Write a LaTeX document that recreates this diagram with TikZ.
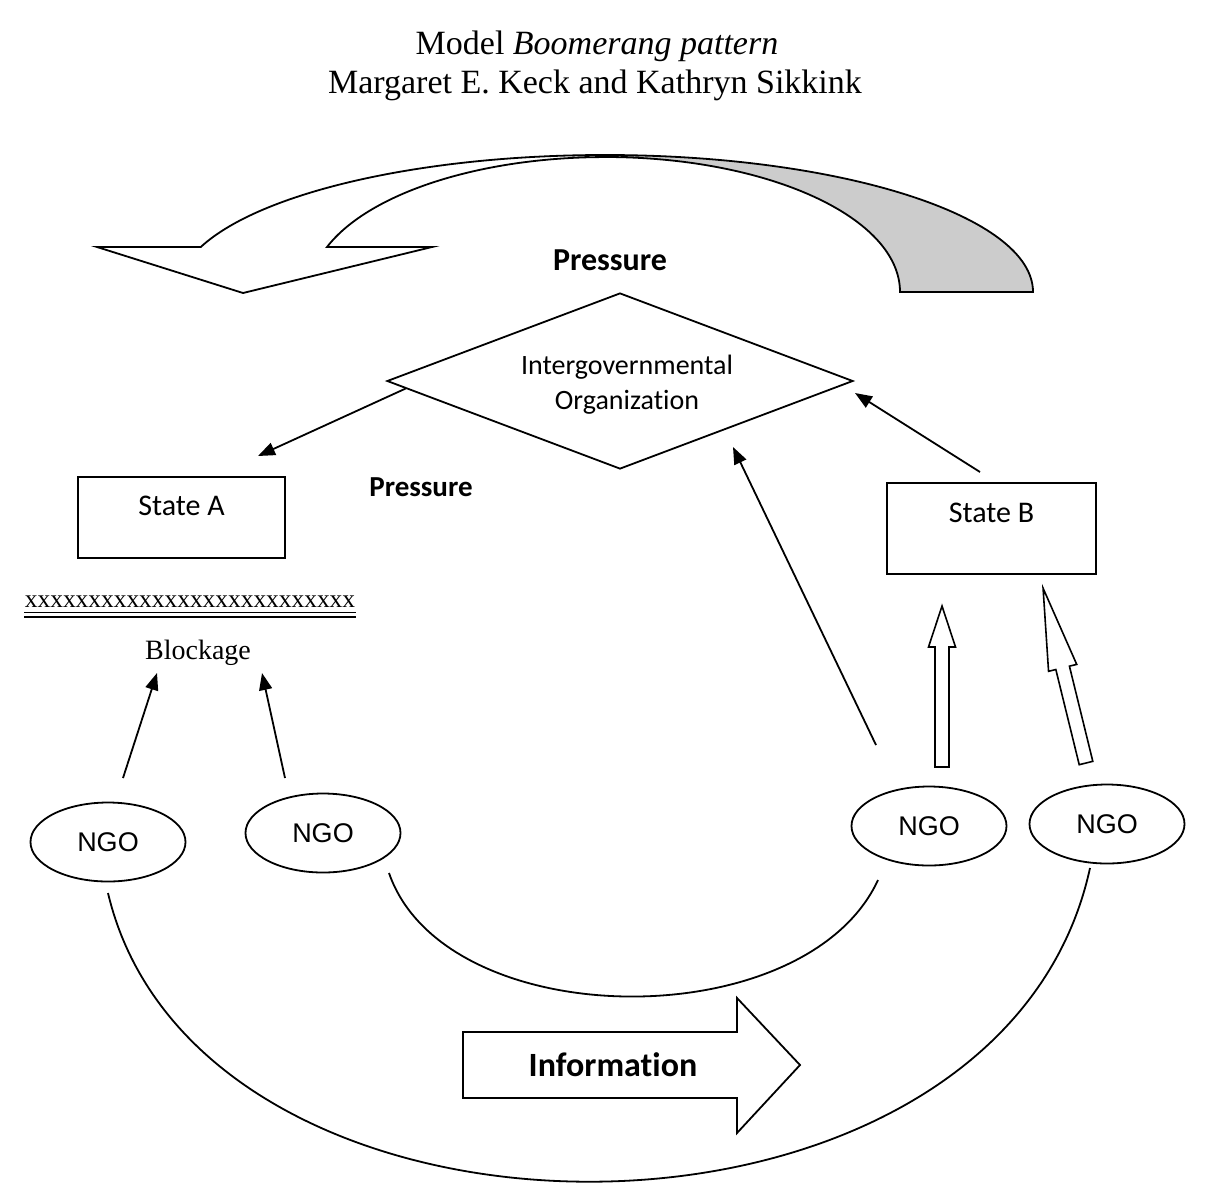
\documentclass[tikz,border=0pt]{standalone}
\usepackage{xcolor}
\usepackage{fontspec}
\setmainfont{Liberation Serif}
\newfontfamily\calibri[Ligatures=NoCommon]{Carlito}
\newfontfamily\arialfont{Liberation Sans}
\usetikzlibrary{shapes.geometric,arrows.meta}

\begin{document}
\begin{tikzpicture}[x=0.5pt,y=-0.5pt,line width=0.9pt,
    ngo/.style={draw, ellipse, minimum width=77.5pt, minimum height=39.5pt, inner sep=0pt, font=\arialfont\fontsize{13.5}{16}\selectfont},
    statebox/.style={draw, rectangle, inner sep=0pt, font=\calibri\fontsize{15}{18}\selectfont},
    boldlbl/.style={font=\calibri\bfseries\fontsize{#1}{18}\selectfont},
    arr/.style={-{Triangle[length=8.5pt,width=6.5pt]}},
    hollow/.style={draw, fill=white, line width=0.8pt}
]
    \fill[white] (0,0) rectangle (1209,1200);
    \useasboundingbox (0,0) rectangle (1209,1200);

    % title
    \node[font=\fontsize{17}{20}\selectfont] (title1) at (597,46) {Model \textit{Boomerang pattern}};
    \node[font=\fontsize{17}{20}\selectfont] (title2) at (595,85) {Margaret E. Keck and Kathryn Sikkink};

    % boomerang arrow
    \draw[fill=black!20] (1033,292) arc[start angle=0, end angle=-90, x radius=428, y radius=137]
        -- (605,157) arc[start angle=-90, end angle=0, x radius=295, y radius=135] -- cycle;
    \draw[fill=white] (605,155) arc[start angle=-90, end angle=-160.8, x radius=428, y radius=137]
        -- (97,247) -- (243,293) -- (432,247) -- (327,247)
        arc[start angle=-160.5, end angle=-90, x radius=295, y radius=135] -- cycle;
    \node[boldlbl=16] (press1) at (610,260) {Pressure};

    % organisation and states
    \node[draw, diamond, shape aspect=2.65, minimum width=233pt, minimum height=88pt, inner sep=0pt] (io) at (620,381) {};
    \node[align=center, font=\calibri\fontsize{14}{17.5}\selectfont] (iolbl) at (627,385) {Intergovernmental\\Organization};
    \node[boldlbl=14.5] (press2) at (421,487) {Pressure};
    \node[statebox, minimum width=103.5pt, minimum height=40.5pt, text depth=12pt] (stateA) at (181.5,517.5) {State A};
    \node[statebox, minimum width=104.5pt, minimum height=45.5pt, text depth=15.5pt] (stateB) at (991.5,528.5) {State B};

    % blockage
    \node[font=\fontsize{12.7}{15}\selectfont, inner sep=0pt] (xline) at (190,602) {xxxxxxxxxxxxxxxxxxxxxxxxxx};
    \draw[line width=0.5pt] ([yshift=-2pt]xline.south west) -- ([yshift=-2pt]xline.south east);
    \draw[line width=1pt] ([yshift=-4pt]xline.south west) -- ([yshift=-4pt]xline.south east);
    \node[font=\fontsize{14}{17}\selectfont] (block) at (198,653) {Blockage};

    % NGOs
    \node[ngo] (ngoA) at (108,842) {NGO};
    \node[ngo] (ngoB) at (323,833) {NGO};
    \node[ngo] (ngoC) at (929,826) {NGO};
    \node[ngo] (ngoD) at (1107,824) {NGO};

    % free ends
    \coordinate (pA) at (258,456);
    \coordinate (pB) at (980,472);
    \coordinate (pIOe) at (855,393);
    \coordinate (pC) at (876,745);
    \coordinate (pIOs) at (733,447);
    \coordinate (bl1s) at (123,778);
    \coordinate (bl1e) at (157,673);
    \coordinate (bl2s) at (285,778);
    \coordinate (bl2e) at (262,673);
    \coordinate (cA) at (108,893);
    \coordinate (cB) at (389,873);
    \coordinate (cC) at (878,880);
    \coordinate (cD) at (1090,868);

    \draw[arr] (io.182) -- (pA);
    \draw[arr] (pB) -- (pIOe);
    \draw[arr] (pC) -- (pIOs);
    \draw[arr] (bl1s) -- (bl1e);
    \draw[arr] (bl2s) -- (bl2e);

    % hollow arrows to State B
    \begin{scope}[shift={(942,767)}, rotate=90]
        \draw[hollow] (0,-7) -- (120,-7) -- (120,-13.5) -- (161,0) -- (120,13.5) -- (120,7) -- (0,7) -- cycle;
    \end{scope}
    \begin{scope}[shift={(1086,763)}, rotate=103.8]
        \draw[hollow] (0,-7) -- (98,-7) -- (98,-14.5) -- (180,0) -- (98,14.5) -- (98,7) -- (0,7) -- cycle;
    \end{scope}

    % information flow
    \draw (cB) .. controls (445,1035) and (805,1038) .. (cC);
    \draw (cA) .. controls (200,1282) and (1000,1282) .. (cD);
    \draw[fill=white] (463,1032) -- (737,1032) -- (737,998) -- (800,1065) -- (737,1133) -- (737,1098) -- (463,1098) -- cycle;
    \node[boldlbl=17] (info) at (613,1065) {Information};
\end{tikzpicture}
\end{document}
